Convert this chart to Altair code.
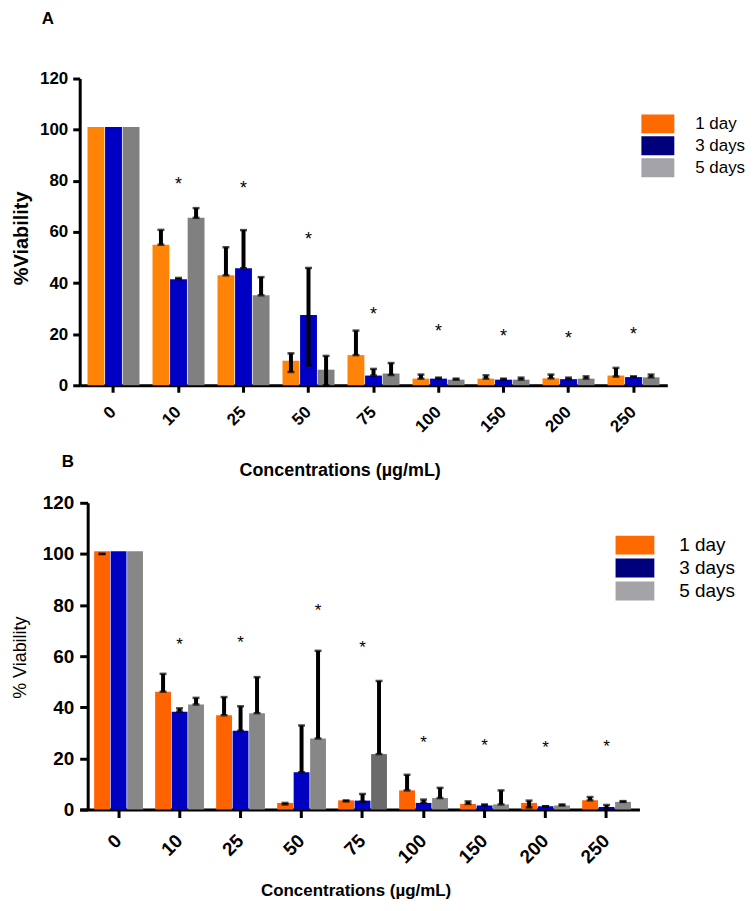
import altair as alt
import pandas as pd

concs = ["0", "10", "25", "50", "75", "100", "150", "200", "250"]
series = ["1 day", "3 days", "5 days"]

# ---- Panel A values ----
a_mean = {
    "1 day": [101, 55, 43, 9.6, 11.8, 2.6, 2.6, 2.7, 3.8],
    "3 days": [101, 41.5, 45.8, 27.5, 3.8, 2.6, 2.2, 2.4, 3.2],
    "5 days": [101, 65.5, 35.2, 6.1, 4.6, 2.2, 2.2, 2.6, 3.1],
}
a_err_hi = {
    "1 day": [None, 60.8, 54, 12.5, 21.4, 4.2, 3.9, 4.2, 6.8],
    "3 days": [None, 42, 60.7, 45.9, 6.4, 3.0, 2.6, 3.0, 3.5],
    "5 days": [None, 69.3, 42.3, 11.5, 8.7, 2.6, 3.0, 3.5, 4.2],
}
a_err_lo = {
    "1 day": [None, 55, 43, 5.2, 11.8, 2.6, 2.6, 2.7, 3.4],
    "3 days": [None, 41.5, 45.8, 7.8, 3.8, 2.6, 2.2, 2.4, 3.2],
    "5 days": [None, 65.5, 35.2, 0, 4.0, 2.2, 2.2, 2.6, 3.1],
}
a_star_conc = ["10", "25", "50", "75", "100", "150", "200", "250"]
a_star_pos = ["3 days"] * 8
a_star_y = [80.4, 78.8, 59, 29.4, 23, 20.8, 20, 21.7]

# ---- Panel B values ----
b_mean = {
    "1 day": [101, 46.1, 36.9, 2.6, 3.6, 7.5, 2.2, 2.6, 3.6],
    "3 days": [101, 38.3, 30.8, 14.6, 3.5, 2.6, 1.6, 1.3, 1.0],
    "5 days": [101, 41.1, 37.7, 27.8, 21.7, 4.5, 2.0, 1.6, 3.0],
}
b_err_hi = {
    "1 day": [100, 53.1, 44, 2.6, 3.6, 13.6, 3.2, 3.5, 4.9],
    "3 days": [None, 39.6, 40.4, 32.9, 6.1, 3.9, 2.0, 1.3, 1.8],
    "5 days": [None, 43.7, 51.8, 62.1, 50.3, 8.5, 7.5, 2.0, 3.3],
}
b_err_lo = {
    "1 day": [100, 46.1, 36.9, 2.0, 3.2, 7.5, 2.2, 0.8, 3.6],
    "3 days": [None, 38.3, 30.8, 14.6, 3.0, 2.6, 1.6, 1.3, 0.0],
    "5 days": [None, 41.1, 37.7, 27.8, 21.7, 4.5, 2.0, 1.6, 3.0],
}
b_star_conc = ["10", "25", "50", "75", "100", "150", "200", "250"]
b_star_pos = ["3 days", "3 days", "5 days", "3 days", "3 days", "3 days", "3 days", "3 days"]
b_star_y = [66.2, 67.1, 79.4, 65, 27.7, 26.6, 26, 26.4]

legend_colors = ["#FF6A00", "#00007C", "#A3A3A8"]
a_bar_colors = ["#FF8307", "#0000C4", "#808080"]
b_bar_colors = ["#FF6300", "#0000C0", "#878787"]

FONT = "Liberation Sans"


def bar_df(means):
    rows = []
    for s in series:
        for c, v in zip(concs, means[s]):
            rows.append({"conc": c, "series": s, "value": v})
    return pd.DataFrame(rows)


def err_df(lo, hi):
    rows = []
    for s in series:
        for c, l, h in zip(concs, lo[s], hi[s]):
            if l is not None and h is not None:
                rows.append({"conc": c, "series": s, "lo": l, "hi": h})
    return pd.DataFrame(rows)


def star_df(cs, ps, ys):
    return pd.DataFrame({"conc": cs, "series": ps, "y": ys, "t": ["*"] * len(cs)})


def panel(label, means, lo, hi, stars, bar_colors, p):
    xs = alt.Scale(domain=concs, paddingInner=0.2, paddingOuter=p["po"], align=p["align"])
    xo = alt.XOffset("series:N", scale=alt.Scale(domain=series, paddingInner=0.04))
    ys = alt.Scale(domain=[0, 120], nice=False)

    x_axis = alt.Axis(
        title="Concentrations (µg/mL)", labelAngle=-45, labelAlign="right",
        labelBaseline="middle", labelPadding=p["xlabpad"], labelFontSize=p["tickfs"],
        labelFontWeight="bold", labelFont=FONT, labelColor="black",
        tickSize=p["ticklen"], tickWidth=3, tickColor="black",
        domainWidth=3, domainColor="black",
        titleFont=FONT, titleFontSize=p["xtitlefs"], titleFontWeight="bold", titleColor="black",
        titleX=p["xtitlex"], titleY=p["xtitley"], titleBaseline="middle",
    )
    y_axis = alt.Axis(
        title=p["ytitle"], values=[0, 20, 40, 60, 80, 100, 120], grid=False,
        labelFontSize=p["tickfs"], labelFontWeight="bold", labelFont=FONT, labelColor="black",
        labelPadding=p["ylabpad"], tickSize=p["ticklen"], tickWidth=3, tickColor="black",
        domainWidth=3, domainColor="black", offset=p["yoffset"],
        titleFont=FONT, titleFontSize=p["ytitlefs"], titleFontWeight=p["ytitlefw"],
        titleColor="black", titleX=p["ytitlex"], titleY=p["ytitley"], titleBaseline="middle",
    )
    X = alt.X("conc:N", scale=xs, axis=x_axis)

    # bar fill scale: data-driven domain (sorted), so it is not merged with the legend's scale
    fill_enc = alt.Fill("series:N", scale=alt.Scale(range=bar_colors), legend=None)
    if p.get("dark75"):
        fill_enc = alt.condition(
            (alt.datum.conc == "75") & (alt.datum.series == "5 days"),
            alt.value("#6A6A6A"),
            fill_enc,
        )

    bdf = bar_df(means)
    bars = alt.Chart(bdf).mark_bar().encode(
        x=X, xOffset=xo, y=alt.Y("value:Q", scale=ys, axis=y_axis), fill=fill_enc,
    )

    # zero-height bars that only carry the legend
    legend_layer = alt.Chart(bdf).mark_bar().encode(
        x=X, xOffset=xo,
        y=alt.Y(datum=0, scale=ys, axis=y_axis), y2=alt.Y2(datum=0),
        color=alt.Color(
            "series:N", scale=alt.Scale(domain=series, range=legend_colors),
            legend=alt.Legend(
                title=None, orient="none", legendX=p["legx"], legendY=p["legy"],
                symbolType=p["sympath"], symbolSize=361, symbolStrokeWidth=0,
                symbolOpacity=1, labelFont=FONT, labelFontSize=p["legfs"],
                labelColor="black", rowPadding=p["rowpad"], labelOffset=p["laboff"], padding=0,
            ),
        ),
    )

    e = err_df(lo, hi)
    base_e = alt.Chart(e)
    rule = base_e.mark_rule(color="black", strokeWidth=4).encode(
        x=X, xOffset=xo, y=alt.Y("lo:Q", scale=ys, axis=y_axis), y2="hi:Q",
    )
    cap_hi = base_e.mark_tick(color="black", thickness=2.5, size=7).encode(
        x=X, xOffset=xo, y=alt.Y("hi:Q", scale=ys, axis=y_axis),
    )
    cap_lo = base_e.mark_tick(color="black", thickness=2.5, size=7).encode(
        x=X, xOffset=xo, y=alt.Y("lo:Q", scale=ys, axis=y_axis),
    )
    st = alt.Chart(stars).mark_text(
        font=FONT, fontSize=p["starfs"], color="black", baseline="alphabetic",
        dy=p["starfs"] * 0.57,
    ).encode(
        x=X, xOffset=xo, y=alt.Y("y:Q", scale=ys, axis=y_axis), text="t:N",
    )

    return alt.layer(bars, legend_layer, rule, cap_hi, cap_lo, st).properties(
        width=p["w"], height=308,
        title=alt.TitleParams(
            label, anchor="start", frame="group", font=FONT, fontSize=p["labfs"],
            fontWeight="bold", color="black", dx=p["labdx"], dy=p["labdy"], offset=0,
        ),
    )


pa = dict(
    po=0.12, align=0.5, w=590, xlabpad=17, tickfs=17, ticklen=7, xtitlefs=18,
    xtitlex=261, xtitley=86, ytitle="%Viability", ylabpad=5, yoffset=0,
    ytitlefs=20, ytitlefw="bold", ytitlex=-58, ytitley=160,
    legx=571, legy=36, sympath="M-1.74,-1H1.74V1H-1.74Z", legfs=17, laboff=28, rowpad=3,
    starfs=18, labfs=17, labdx=-38, labdy=-42,
)
pb = dict(
    po=0.188, align=0.63, w=562, xlabpad=20, tickfs=19, ticklen=8, xtitlefs=17,
    xtitlex=277, xtitley=81, ytitle="% Viability", ylabpad=6, yoffset=-8,
    ytitlefs=18, ytitlefw="normal", ytitlex=-67, ytitley=155,
    legx=548, legy=33, sympath="M-2.05,-1H2.05V1H-2.05Z", legfs=19, laboff=35, rowpad=3,
    starfs=17, labfs=17, labdx=-18, labdy=-23, dark75=True,
)

chart_a = panel("A", a_mean, a_err_lo, a_err_hi, star_df(a_star_conc, a_star_pos, a_star_y), a_bar_colors, pa)
chart_b = panel("B", b_mean, b_err_lo, b_err_hi, star_df(b_star_conc, b_star_pos, b_star_y), b_bar_colors, pb)

chart = alt.vconcat(chart_a, chart_b, spacing=118, bounds="flush").resolve_scale(
    color="independent", fill="independent", x="independent", y="independent", xOffset="independent"
).resolve_legend(color="independent", fill="independent").properties(
    padding={"left": 4, "top": 0, "right": 0, "bottom": 0}, background="white"
).configure_view(stroke=None)

chart.save("out.html", embed_options={"renderer": "svg", "actions": False})
